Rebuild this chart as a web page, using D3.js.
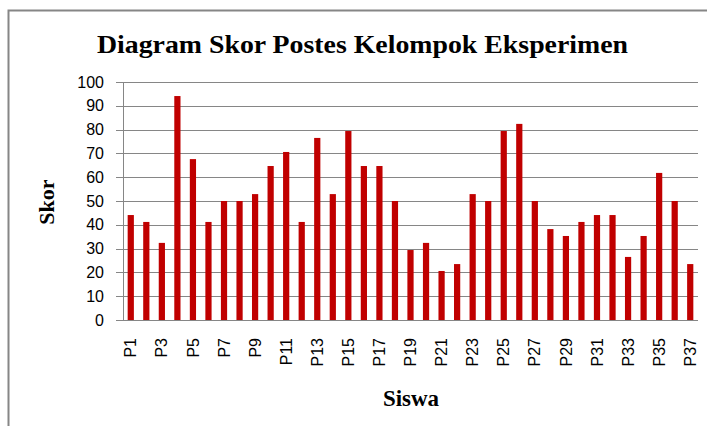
<!DOCTYPE html>
<meta charset="UTF-8">
<style>
body { margin: 0; background: #fff; }
.grid line { stroke: #868686; stroke-width: 1px; }
.axis text { font: 16px "Liberation Sans", Arial, sans-serif; fill: #000; }
.axis path, .axis line { stroke: #868686; }
.ttl { font-family: "Liberation Serif", "Times New Roman", serif; font-weight: bold; fill: #000; }
</style>
<body>
<script src="https://d3js.org/d3.v7.min.js"></script>
<script>
// skor tiap siswa
var siswa = d3.range(1, 38).map(function(i) { return "P" + i; });
var skor = [44.1, 41.2, 32.4, 94.1, 67.6, 41.2, 50, 50, 52.9, 64.7,
            70.6, 41.2, 76.5, 52.9, 79.4, 64.7, 64.7, 50, 29.4, 32.4,
            20.6, 23.5, 52.9, 50, 79.4, 82.4, 50, 38.2, 35.3, 41.2,
            44.1, 44.1, 26.5, 35.3, 61.8, 50, 23.5];
var yTicks = [0, 10, 20, 30, 40, 50, 60, 70, 80, 90, 100];

var W = 707, H = 426;
var margin = {top: 82, right: 9, bottom: 106, left: 123},
    width = W - margin.left - margin.right,
    height = H - margin.top - margin.bottom;

var svg = d3.select("body").append("svg")
    .attr("width", W)
    .attr("height", H);

// chart border (only top & left visible in the crop)
svg.append("path")
    .attr("d", "M8.5," + H + " V10.5 H" + W)
    .attr("fill", "none")
    .attr("stroke", "#868686")
    .attr("stroke-width", 2);

svg.append("text")
    .attr("class", "ttl")
    .attr("x", 362.5).attr("y", 53)
    .attr("text-anchor", "middle")
    .attr("font-size", 26)
    .attr("textLength", 531)
    .attr("lengthAdjust", "spacingAndGlyphs")
    .text("Diagram Skor Postes Kelompok Eksperimen");

var g = svg.append("g")
    .attr("transform", "translate(" + margin.left + "," + margin.top + ")");

var x = d3.scaleBand().domain(siswa).range([0, width])
    .paddingInner(0.6).paddingOuter(0.3);
var y = d3.scaleLinear().domain([0, 100]).range([height, 0]);

// gridlines
g.append("g").attr("class", "grid")
  .selectAll("line").data(yTicks).join("line")
    .attr("x1", -7).attr("x2", width)
    .attr("y1", function(d) { return Math.round(y(d)) + 0.5; })
    .attr("y2", function(d) { return Math.round(y(d)) + 0.5; });

// y axis
var yAxis = g.append("g").attr("class", "axis")
    .call(d3.axisLeft(y).tickValues(yTicks).tickSize(0).tickPadding(19));
yAxis.select(".domain").attr("d", "M0.5,0V" + height);

// bars
g.selectAll("rect.bar").data(skor).join("rect")
    .attr("class", "bar")
    .attr("x", function(d, i) { return x(siswa[i]); })
    .attr("width", x.bandwidth())
    .attr("y", function(d) { return y(d); })
    .attr("height", function(d) { return height - y(d); })
    .attr("fill", "#C00000");

// x axis
var xAxis = g.append("g").attr("class", "axis")
    .attr("transform", "translate(0," + height + ")")
    .call(d3.axisBottom(x)
      .tickValues(siswa.filter(function(d, i) { return i % 2 == 0; }))
      .tickSize(0));
xAxis.select(".domain").remove();
xAxis.selectAll("text")
    .attr("transform", "rotate(-90)")
    .attr("x", -18).attr("y", 0)
    .attr("dy", "0.35em")
    .attr("text-anchor", "end");

// axis titles
svg.append("text")
    .attr("class", "ttl")
    .attr("font-size", 22)
    .attr("text-anchor", "middle")
    .attr("transform", "translate(54,202) rotate(-90)")
    .text("Skor");

svg.append("text")
    .attr("class", "ttl")
    .attr("font-size", 23)
    .attr("text-anchor", "middle")
    .attr("x", 411).attr("y", 406)
    .text("Siswa");
</script>
</body>
